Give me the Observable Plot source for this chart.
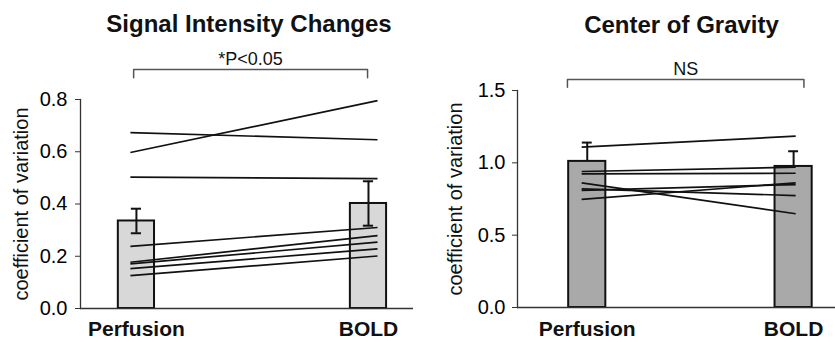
<!DOCTYPE html>
<html>
<head>
<meta charset="utf-8">
<script src="https://cdn.jsdelivr.net/npm/d3@7"></script>
<script src="https://cdn.jsdelivr.net/npm/@observablehq/plot@0.6"></script>
<style>
  html, body { margin: 0; padding: 0; background: #fff; }
  #wrap { position: relative; width: 835px; height: 342px; overflow: hidden; }
  .panel { position: absolute; top: 0; }
</style>
</head>
<body>
<div id="wrap">
  <div class="panel" id="left" style="left:0px"></div>
  <div class="panel" id="right" style="left:420px"></div>
</div>
<script>
// Categories
const groups = ["Perfusion", "BOLD"];

// Panel 1: Signal Intensity Changes
const sicTitle = "Signal Intensity Changes";
const sicSig = "*P<0.05";
const sicMeans = [0.335, 0.402];
const sicErr = [0.047, 0.085];
const sicPerfusion = [0.597, 0.673, 0.503, 0.238, 0.177, 0.171, 0.153, 0.126];
const sicBold      = [0.796, 0.646, 0.497, 0.310, 0.279, 0.254, 0.228, 0.201];
const sicTicks = [0, 0.2, 0.4, 0.6, 0.8];

// Panel 2: Center of Gravity
const cogTitle = "Center of Gravity";
const cogSig = "NS";
const cogMeans = [1.01, 0.975];
const cogErr = [0.13, 0.105];
const cogPerfusion = [1.108, 0.940, 0.924, 0.862, 0.820, 0.809, 0.747];
const cogBold      = [1.184, 0.970, 0.928, 0.648, 0.774, 0.850, 0.862];
const cogTicks = [0, 0.5, 1.0, 1.5];

const yLabel = "coefficient of variation";

function panel(cfg) {
  const bars = groups.map((g, i) => ({i, g, mean: cfg.means[i], err: cfg.err[i]}));
  const pairs = cfg.pre.map((v, k) => ({pre: v, post: cfg.post[k]}));
  const caps = [];
  bars.forEach(b => {
    caps.push({i: b.i, y: b.mean + b.err});
    if (cfg.lowerErr) caps.push({i: b.i, y: b.mean - b.err});
  });
  const bx = cfg.bracketX, by = cfg.bracketY, bt = cfg.bracketTick;
  const bracket = [
    {x: bx[0], y: by - bt}, {x: bx[0], y: by}, {x: bx[1], y: by}, {x: bx[1], y: by - bt}
  ];
  return Plot.plot({
    width: cfg.width,
    height: 342,
    marginLeft: cfg.marginLeft,
    marginRight: cfg.marginRight,
    marginTop: cfg.marginTop,
    marginBottom: cfg.marginBottom,
    style: {fontFamily: "'Liberation Sans', Arial, sans-serif", color: "#000", background: "#fff"},
    x: {type: "linear", domain: cfg.xDomain, axis: null},
    y: {domain: [0, cfg.yMax]},
    marks: [
      Plot.rectY(bars, {
        x1: d => d.i - cfg.barHalf, x2: d => d.i + cfg.barHalf,
        y1: 0, y2: "mean",
        fill: cfg.fill, stroke: "#111", strokeWidth: 2
      }),
      Plot.ruleX(bars, {
        x: "i",
        y1: d => cfg.lowerErr ? d.mean - d.err : d.mean,
        y2: d => d.mean + d.err,
        stroke: "#111", strokeWidth: 2
      }),
      Plot.ruleY(caps, {
        y: "y", x1: d => d.i - cfg.capHalf, x2: d => d.i + cfg.capHalf,
        stroke: "#111", strokeWidth: 2
      }),
      Plot.link(pairs, {
        x1: cfg.lineX[0], x2: cfg.lineX[1], y1: "pre", y2: "post",
        stroke: "#111", strokeWidth: 1.7
      }),
      Plot.frame({anchor: "left", stroke: "#333", strokeWidth: 1.3}),
      Plot.ruleY([0], {stroke: "#333", strokeWidth: 1.3}),
      Plot.axisY(cfg.ticks, {
        tickSize: 5, tickPadding: cfg.tickPadding, fontSize: 20,
        tickFormat: d3.format(".1f"), label: null, stroke: "#333"
      }),
      Plot.text([yLabel], {
        frameAnchor: "left", textAnchor: "middle", lineAnchor: "middle",
        rotate: -90, dx: cfg.yLabelDx, fontSize: 20, fill: "#111"
      }),
      Plot.text(groups, {
        x: (d, i) => i, frameAnchor: "bottom", lineAnchor: "middle", dy: cfg.xLabelDy,
        fontSize: 21, fontWeight: "bold", fill: "#111"
      }),
      Plot.line(bracket, {x: "x", y: "y", stroke: "#555", strokeWidth: 1.5}),
      Plot.text([cfg.sig], {
        x: (bx[0] + bx[1]) / 2, y: by, lineAnchor: "middle", dy: -10, fontSize: 18, fill: "#111"
      }),
      Plot.text([cfg.title], {
        frameAnchor: "top", lineAnchor: "middle", dx: cfg.titleDx, dy: cfg.titleDy,
        fontSize: 24, fontWeight: "bold", fill: "#111"
      })
    ]
  });
}

document.getElementById("left").appendChild(panel({
  title: sicTitle, sig: sicSig, means: sicMeans, err: sicErr,
  pre: sicPerfusion, post: sicBold, ticks: sicTicks, yMax: 0.8,
  fill: "#d8d8d8", lowerErr: true,
  width: 420, marginLeft: 80, marginRight: 7, marginTop: 99, marginBottom: 34,
  xDomain: [-0.241, 1.194], barHalf: 0.078, capHalf: 0.022,
  lineX: [-0.026, 1.039],
  bracketX: [-0.012, 0.996], bracketY: 0.915, bracketTick: 0.032,
  tickPadding: 8, yLabelDx: -59, xLabelDy: 21, titleDx: 2, titleDy: -75
}));

document.getElementById("right").appendChild(panel({
  title: cogTitle, sig: cogSig, means: cogMeans, err: cogErr,
  pre: cogPerfusion, post: cogBold, ticks: cogTicks, yMax: 1.5,
  fill: "#a9a9a9", lowerErr: false,
  width: 415, marginLeft: 97, marginRight: 0, marginTop: 90, marginBottom: 35,
  xDomain: [-0.338, 1.203], barHalf: 0.09, capHalf: 0.024,
  lineX: [-0.027, 1.01],
  bracketX: [-0.096, 1.05], bracketY: 1.576, bracketTick: 0.053,
  tickPadding: 7, yLabelDx: -62, xLabelDy: 22, titleDx: 5, titleDy: -65
}));
</script>
</body>
</html>
